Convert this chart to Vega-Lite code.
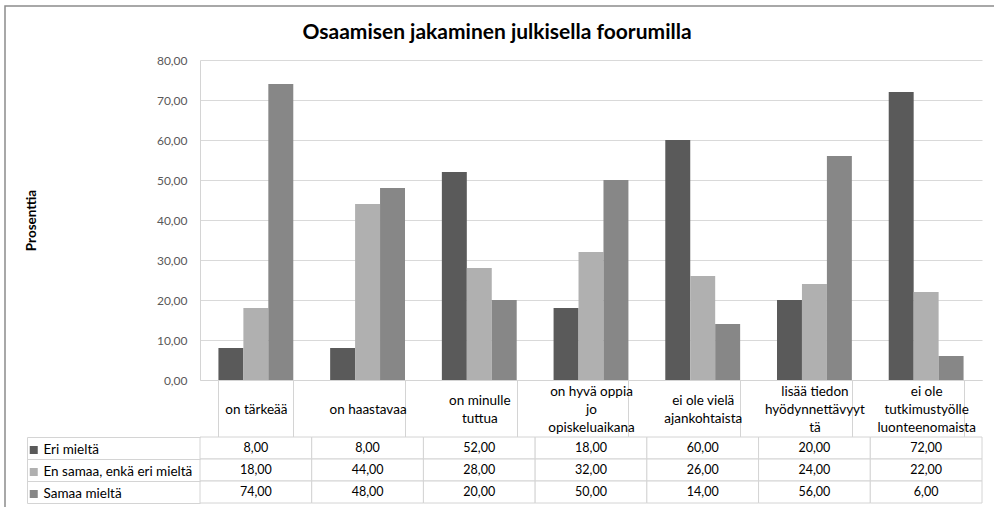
{
  "$schema": "https://vega.github.io/schema/vega-lite/v6.json",
  "padding": {"left": 4, "top": 5, "right": 0, "bottom": 0},
  "background": "white",
  "title": {"text": "Osaamisen jakaminen julkisella foorumilla", "font": "Lato", "fontSize": 21, "fontWeight": "bold", "color": "#000000", "anchor": "middle", "frame": "bounds", "offset": 10, "dx": -76, "dy": 48},
  "config": {
    "locale": {"number": {"decimal": ",", "thousands": "\u00a0", "grouping": [3], "currency": ["", " €"]}},
    "view": {"stroke": null},
    "font": "Lato",
    "legend": {"strokeWidth": 1.5, "cornerRadius": 0}
  },
  "datasets": {
    "kysely": [
      {"kategoria": "on tärkeää", "vastaus": "Eri mieltä", "prosentti": 8},
      {"kategoria": "on tärkeää", "vastaus": "En samaa, enkä eri mieltä", "prosentti": 18},
      {"kategoria": "on tärkeää", "vastaus": "Samaa mieltä", "prosentti": 74},
      {"kategoria": "on haastavaa", "vastaus": "Eri mieltä", "prosentti": 8},
      {"kategoria": "on haastavaa", "vastaus": "En samaa, enkä eri mieltä", "prosentti": 44},
      {"kategoria": "on haastavaa", "vastaus": "Samaa mieltä", "prosentti": 48},
      {"kategoria": "on minulle tuttua", "vastaus": "Eri mieltä", "prosentti": 52},
      {"kategoria": "on minulle tuttua", "vastaus": "En samaa, enkä eri mieltä", "prosentti": 28},
      {"kategoria": "on minulle tuttua", "vastaus": "Samaa mieltä", "prosentti": 20},
      {"kategoria": "on hyvä oppia jo opiskeluaikana", "vastaus": "Eri mieltä", "prosentti": 18},
      {"kategoria": "on hyvä oppia jo opiskeluaikana", "vastaus": "En samaa, enkä eri mieltä", "prosentti": 32},
      {"kategoria": "on hyvä oppia jo opiskeluaikana", "vastaus": "Samaa mieltä", "prosentti": 50},
      {"kategoria": "ei ole vielä ajankohtaista", "vastaus": "Eri mieltä", "prosentti": 60},
      {"kategoria": "ei ole vielä ajankohtaista", "vastaus": "En samaa, enkä eri mieltä", "prosentti": 26},
      {"kategoria": "ei ole vielä ajankohtaista", "vastaus": "Samaa mieltä", "prosentti": 14},
      {"kategoria": "lisää tiedon hyödynnettävyyttä", "vastaus": "Eri mieltä", "prosentti": 20},
      {"kategoria": "lisää tiedon hyödynnettävyyttä", "vastaus": "En samaa, enkä eri mieltä", "prosentti": 24},
      {"kategoria": "lisää tiedon hyödynnettävyyttä", "vastaus": "Samaa mieltä", "prosentti": 56},
      {"kategoria": "ei ole tutkimustyölle luonteenomaista", "vastaus": "Eri mieltä", "prosentti": 72},
      {"kategoria": "ei ole tutkimustyölle luonteenomaista", "vastaus": "En samaa, enkä eri mieltä", "prosentti": 22},
      {"kategoria": "ei ole tutkimustyölle luonteenomaista", "vastaus": "Samaa mieltä", "prosentti": 6}
    ]
  },
  "bounds": "flush",
  "spacing": 57,
  "resolve": {"scale": {"x": "independent", "y": "independent"}},
  "vconcat": [
    {
      "width": 782,
      "height": 320,
      "data": {"name": "kysely"},
      "mark": {"type": "bar"},
      "encoding": {
        "x": {
          "field": "kategoria", "type": "nominal",
          "sort": ["on tärkeää", "on haastavaa", "on minulle tuttua", "on hyvä oppia jo opiskeluaikana", "ei ole vielä ajankohtaista", "lisää tiedon hyödynnettävyyttä", "ei ole tutkimustyölle luonteenomaista"],
          "scale": {"paddingInner": 0.33, "paddingOuter": 0.165},
          "axis": {
            "orient": "bottom", "title": null, "grid": false,
            "tickBand": "extent", "tickSize": 57, "tickColor": "#d4d4d4", "domainColor": "#d4d4d4",
            "labelPadding": {
              "condition": [
                {"test": "indexof(['on hyvä oppia jo opiskeluaikana', 'lisää tiedon hyödynnettävyyttä', 'ei ole tutkimustyölle luonteenomaista'], datum.value) >= 0", "value": -46},
                {"test": "indexof(['on minulle tuttua', 'ei ole vielä ajankohtaista'], datum.value) >= 0", "value": -37}
              ],
              "value": -28
            },
            "labelBaseline": "middle", "labelLineHeight": 18,
            "labelFont": "Lato", "labelFontSize": 13.5, "labelColor": "#000000", "labelAngle": 0, "labelLimit": 0,
            "labelExpr": "datum.value == 'on minulle tuttua' ? ['on minulle', 'tuttua'] : datum.value == 'on hyvä oppia jo opiskeluaikana' ? ['on hyvä oppia', 'jo', 'opiskeluaikana'] : datum.value == 'ei ole vielä ajankohtaista' ? ['ei ole vielä', 'ajankohtaista'] : datum.value == 'lisää tiedon hyödynnettävyyttä' ? ['lisää tiedon', 'hyödynnettävyyt', 'tä'] : datum.value == 'ei ole tutkimustyölle luonteenomaista' ? ['ei ole', 'tutkimustyölle', 'luonteenomaista'] : datum.label"
          }
        },
        "xOffset": {
          "field": "vastaus", "type": "nominal",
          "sort": ["Eri mieltä", "En samaa, enkä eri mieltä", "Samaa mieltä"],
          "scale": {"paddingInner": 0, "paddingOuter": 0}
        },
        "y": {
          "field": "prosentti", "type": "quantitative",
          "scale": {"domain": [0, 80]},
          "axis": {
            "title": "Prosenttia", "titleFont": "Lato", "titleFontSize": 13.5, "titleFontWeight": "bold", "titleColor": "#000000", "titlePadding": 118,
            "values": [0, 10, 20, 30, 40, 50, 60, 70, 80], "format": ".2f",
            "labelFont": "Lato", "labelFontSize": 12, "labelColor": "#595959", "labelPadding": 13,
            "ticks": false, "domainColor": "#d4d4d4", "grid": true, "gridColor": "#d9d9d9"
          }
        },
        "color": {
          "field": "vastaus", "type": "nominal",
          "sort": ["Eri mieltä", "En samaa, enkä eri mieltä", "Samaa mieltä"],
          "scale": {"domain": ["Eri mieltä", "En samaa, enkä eri mieltä", "Samaa mieltä"], "range": ["#5a5a5a", "#b0b0b0", "#878787"]},
          "legend": {
            "orient": "none", "legendX": -173, "legendY": 379, "title": null,
            "symbolType": "square", "symbolSize": 64, "symbolStrokeWidth": 0,
            "labelFont": "Lato", "labelFontSize": 13.5, "labelColor": "#000000", "labelOffset": 3, "labelLimit": 0,
            "padding": 0, "rowPadding": 0, "clipHeight": 22, "strokeColor": null
          }
        },
        "stroke": {
          "field": "kategoria", "type": "nominal",
          "scale": {"range": ["transparent"]},
          "legend": {
            "orient": "none", "legendX": -195, "legendY": -54, "title": null,
            "symbolOpacity": 0, "labelOpacity": 0, "labelExpr": "''",
            "padding": 560, "strokeColor": "#8c8c8c"
          }
        }
      }
    },
    {
      "width": 782,
      "height": 66,
      "data": {"name": "kysely"},
      "layer": [
        {
          "mark": {"type": "rect", "fill": "white", "stroke": "#d4d4d4", "strokeWidth": 1},
          "encoding": {
            "x": {
              "field": "kategoria", "type": "nominal",
              "sort": ["on tärkeää", "on haastavaa", "on minulle tuttua", "on hyvä oppia jo opiskeluaikana", "ei ole vielä ajankohtaista", "lisää tiedon hyödynnettävyyttä", "ei ole tutkimustyölle luonteenomaista"],
              "scale": {"paddingInner": 0, "paddingOuter": 0},
              "axis": null
            },
            "y": {
              "field": "vastaus", "type": "nominal",
              "sort": ["Eri mieltä", "En samaa, enkä eri mieltä", "Samaa mieltä"],
              "scale": {"paddingInner": 0, "paddingOuter": 0},
              "axis": {"orient": "left", "tickBand": "extent", "tickSize": 173, "tickColor": "#d4d4d4", "labels": false, "domain": false, "grid": false, "title": null}
            }
          }
        },
        {
          "mark": {"type": "text", "font": "Lato", "fontSize": 12.5, "color": "#000000"},
          "encoding": {
            "x": {
              "field": "kategoria", "type": "nominal",
              "sort": ["on tärkeää", "on haastavaa", "on minulle tuttua", "on hyvä oppia jo opiskeluaikana", "ei ole vielä ajankohtaista", "lisää tiedon hyödynnettävyyttä", "ei ole tutkimustyölle luonteenomaista"],
              "axis": null
            },
            "y": {
              "field": "vastaus", "type": "nominal",
              "sort": ["Eri mieltä", "En samaa, enkä eri mieltä", "Samaa mieltä"],
              "axis": {"orient": "left", "offset": 173, "domain": true, "domainColor": "#d4d4d4", "ticks": false, "labels": false, "grid": false, "title": null}
            },
            "text": {"field": "prosentti", "type": "quantitative", "format": ".2f"}
          }
        }
      ],
      "resolve": {"axis": {"y": "independent"}}
    }
  ]
}
